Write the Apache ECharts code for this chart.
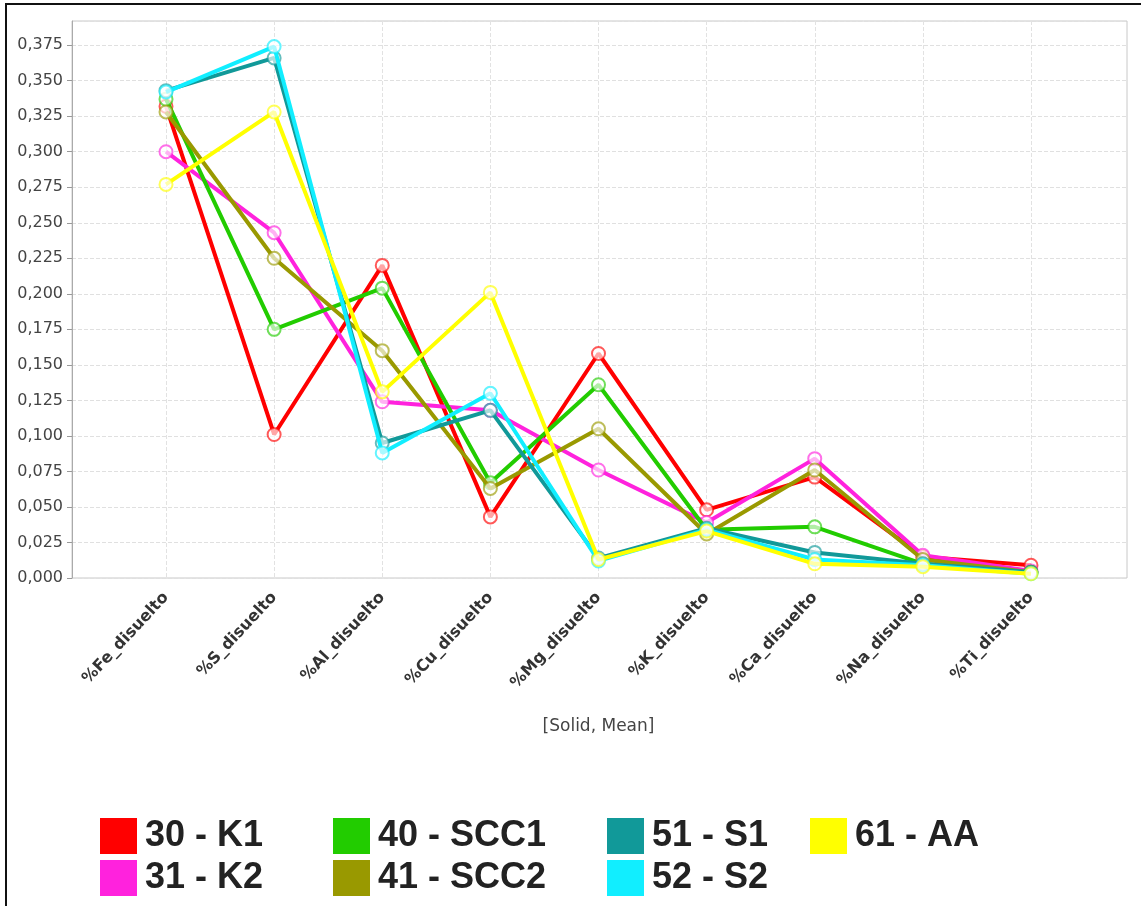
<!DOCTYPE html>
<html>
<head>
<meta charset="utf-8">
<script src="https://cdn.jsdelivr.net/npm/echarts@6/dist/echarts.min.js"></script>
<style>
html,body{margin:0;padding:0;background:#fff;}
#chart{width:1141px;height:906px;}
</style>
</head>
<body>
<div id="chart"></div>
<script>
// ---- data ----
const categories = ['%Fe_disuelto','%S_disuelto','%Al_disuelto','%Cu_disuelto','%Mg_disuelto','%K_disuelto','%Ca_disuelto','%Na_disuelto','%Ti_disuelto'];
const seriesNames = ['30 - K1','31 - K2','40 - SCC1','41 - SCC2','51 - S1','52 - S2','61 - AA'];
const k1   = [0.332, 0.101, 0.220, 0.043, 0.158, 0.048, 0.071, 0.015, 0.009];
const k2   = [0.300, 0.243, 0.124, 0.118, 0.076, 0.039, 0.084, 0.016, 0.005];
const scc1 = [0.337, 0.175, 0.204, 0.067, 0.136, 0.034, 0.036, 0.010, 0.004];
const scc2 = [0.328, 0.225, 0.160, 0.063, 0.105, 0.031, 0.076, 0.013, 0.004];
const s1   = [0.343, 0.366, 0.095, 0.118, 0.014, 0.035, 0.018, 0.010, 0.004];
const s2   = [0.342, 0.374, 0.088, 0.130, 0.012, 0.034, 0.013, 0.009, 0.003];
const aa   = [0.277, 0.328, 0.131, 0.201, 0.013, 0.033, 0.010, 0.008, 0.003];
const seriesValues = [k1, k2, scc1, scc2, s1, s2, aa];
const colors = ['#ff0000','#ff22dd','#22cc00','#999900','#119999','#11eeff','#ffff00'];
const yTickInterval = 0.025;

const chart = echarts.init(document.getElementById('chart'));
const yMax = 0.392;

const series = seriesNames.map((n, i) => ({
  name: n,
  type: 'line',
  xAxisIndex: 0,
  yAxisIndex: 0,
  data: seriesValues[i],
  symbol: 'emptyCircle',
  symbolSize: 13,
  lineStyle: {color: colors[i], width: 4},
  itemStyle: {color: colors[i], borderColor: colors[i], borderWidth: 1.5, opacity: 0.65},
  emphasis: {disabled: true},
  z: 3 + i
}));

// legend columns (column-major order)
const legendCols = [[0,1],[2,3],[4,5],[6]];
const legendLefts = [100, 333, 607, 810];
const legends = legendCols.map((col, ci) => ({
  left: legendLefts[ci],
  top: 818,
  padding: 0,
  orient: 'vertical',
  icon: 'rect',
  itemWidth: 37,
  itemHeight: 36,
  itemGap: 6,
  selectedMode: false,
  textStyle: {fontFamily: 'Liberation Sans, Arial, sans-serif', fontSize: 36, fontWeight: 'bold', color: '#222', padding: [0,0,0,3]},
  data: col.map(i => ({name: seriesNames[i], itemStyle: {color: colors[i], borderWidth: 0, opacity: 1}}))
}));

const option = {
  animation: false,
  backgroundColor: '#fff',
  textStyle: {fontFamily: 'DejaVu Sans, sans-serif'},
  legend: legends,
  graphic: [{
    type: 'rect', shape: {x: 6, y: 4, width: 1200, height: 1000},
    style: {fill: null, stroke: '#111', lineWidth: 2}, silent: true, z: 100
  }],
  grid: [
    {left: 166, right: 110, top: 21, bottom: 328},
    {left: 72, right: 14, top: 21, bottom: 328, show: true, borderColor: '#c8c8c8', borderWidth: 1, backgroundColor: '#fff'}
  ],
  xAxis: [
    {
      type: 'category', gridIndex: 0, data: categories, boundaryGap: false,
      axisLine: {show: false}, axisTick: {show: false},
      axisLabel: {rotate: 47, interval: 0, margin: 17, fontSize: 16, fontWeight: 'bold', color: '#333', fontFamily: 'DejaVu Sans, sans-serif'},
      splitLine: {show: true, lineStyle: {color: '#e2e2e2', type: 'dashed', width: 1}},
      name: '[Solid, Mean]', nameLocation: 'middle', nameGap: 140,
      nameTextStyle: {fontSize: 17, color: '#444', fontFamily: 'DejaVu Sans, sans-serif'}
    },
    {
      type: 'category', gridIndex: 1, data: categories, show: false
    }
  ],
  yAxis: [
    {type: 'value', gridIndex: 0, min: 0, max: yMax, interval: yTickInterval, show: false, splitLine: {show: false}},
    {
      type: 'value', gridIndex: 1, min: 0, max: yMax, interval: yTickInterval,
      axisLine: {show: true, lineStyle: {color: '#aaaaaa'}},
      axisTick: {show: true, length: 5, lineStyle: {color: '#999'}},
      axisLabel: {margin: 9, fontSize: 16, color: '#444', showMaxLabel: false, fontFamily: 'DejaVu Sans, sans-serif',
        formatter: v => (Math.abs(v / yTickInterval - Math.round(v / yTickInterval)) < 1e-6) ? v.toFixed(3).replace('.', ',') : ''},
      splitLine: {show: true, lineStyle: {color: '#e0e0e0', type: 'dashed', width: 1}}
    }
  ],
  series: series
};
chart.setOption(option);
</script>
</body>
</html>
